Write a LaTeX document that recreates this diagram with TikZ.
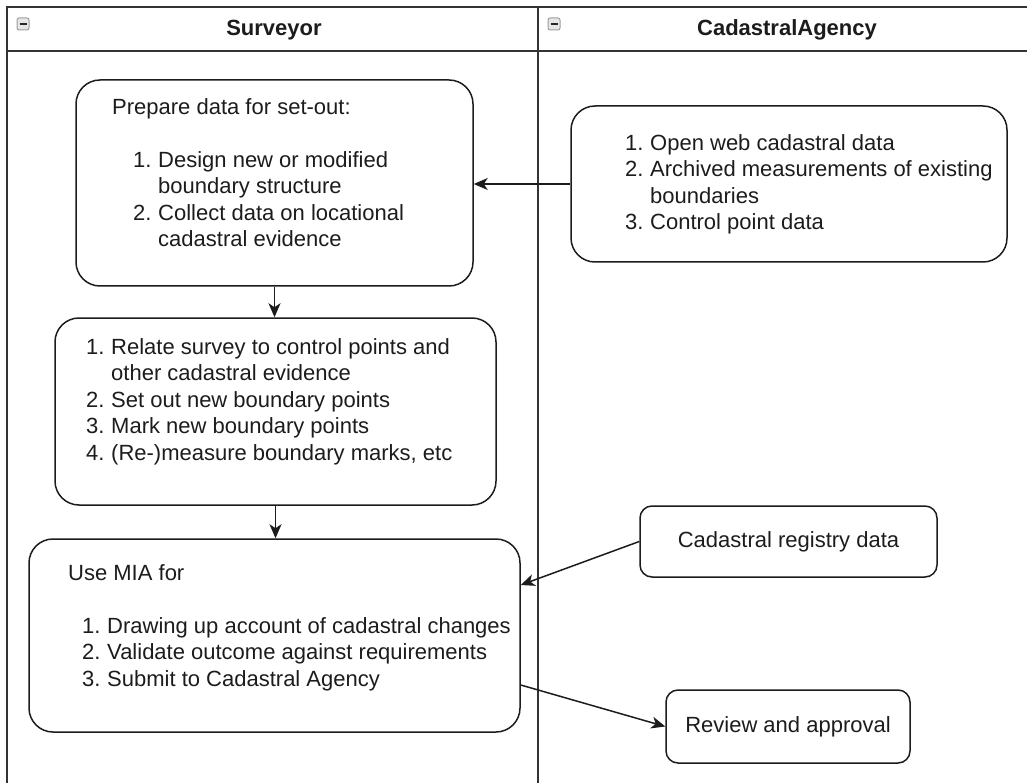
\documentclass[tikz,border=0pt]{standalone}
\usepackage{fontspec}
\setmainfont{Liberation Sans}
\usetikzlibrary{positioning,arrows.meta}
\definecolor{lane}{HTML}{333333}
\definecolor{ink}{HTML}{1C1C1C}
\newcommand{\num}[1]{\makebox[25pt][l]{#1}}
\newcommand{\cont}{\hspace*{25pt}}

\tikzset{
  task/.style={draw=ink, line width=1.5pt, rounded corners=24pt, inner sep=0pt},
  smalltask/.style={task, rounded corners=12pt, text=ink, font=\fontsize{22}{26.5}\selectfont},
  txt/.style={anchor=north west, align=left, inner sep=0pt, text=ink, font=\fontsize{22}{26.5}\selectfont},
  flow/.style={-{Stealth[length=14pt,width=12pt,inset=4pt]}, draw=ink, line width=1.5pt},
  lanehead/.style={font=\fontsize{22}{26}\selectfont\bfseries, text=ink},
  fold/.style={draw=gray!75, fill=gray!20, rounded corners=2pt, line width=1pt, minimum size=12pt, inner sep=0pt}
}

\begin{document}
\begin{tikzpicture}[x=1pt, y=-1pt]
\useasboundingbox (0,0) rectangle (1027,783);

% Lanes
\draw[lane, line width=2pt] (7,783) -- (7,7) -- (1027,7);
\draw[lane, line width=2pt] (7,51) -- (1027,51);
\draw[lane, line width=2pt] (538,7) -- (538,783);
\node[lanehead] (surveyor) at (274,30) {Surveyor};
\node[lanehead] (agency) at (787,30) {CadastralAgency};
\node[fold] (fold-s) at (23,24) {};
\node[fold] (fold-a) at (554,24) {};
\foreach \f in {fold-s, fold-a} {
    \draw[gray!30!black, line width=1.5pt] ([xshift=3pt]\f.west) -- ([xshift=-3pt]\f.east);
}

% Surveyor boxes
\node[task, minimum width=397pt, minimum height=206pt] (prep) at (274.5,183) {};
\node[txt] (prep-text) at (112,98) {Prepare data for set-out:\\[26.5pt]
  \hspace*{21pt}\num{1.}Design new or modified\\
  \hspace*{21pt}\cont boundary structure\\
  \hspace*{21pt}\num{2.}Collect data on locational\\
  \hspace*{21pt}\cont cadastral evidence};

\node[task, minimum width=441pt, minimum height=187pt] (setout) at (275.5,411.5) {};
\node[txt] (setout-text) at (86,338) {\num{1.}Relate survey to control points and\\
  \cont other cadastral evidence\\
  \num{2.}Set out new boundary points\\
  \num{3.}Mark new boundary points\\
  \num{4.}(Re-)measure boundary marks, etc};

\node[task, minimum width=491pt, minimum height=193pt] (mia) at (274.5,635.5) {};
\node[txt] (mia-text) at (68,564) {Use MIA for\\[26.5pt]
  \hspace*{14pt}\num{1.}Drawing up account of cadastral changes\\
  \hspace*{14pt}\num{2.}Validate outcome against requirements\\
  \hspace*{14pt}\num{3.}Submit to Cadastral Agency};

% Agency boxes
\node[task, minimum width=436pt, minimum height=156pt] (sources) at (789,184) {};
\node[txt] (sources-text) at (625,134) {\num{1.}Open web cadastral data\\
  \num{2.}Archived measurements of existing\\
  \cont boundaries\\
  \num{3.}Control point data};

\node[smalltask, minimum width=297pt, minimum height=71pt] (registry) at (788.5,541.5) {Cadastral registry data};
\node[smalltask, minimum width=244pt, minimum height=73pt] (review) at (788,726.5) {Review and approval};

% Flows
\coordinate (mia-in) at ([yshift=50.5pt]mia.east);
\coordinate (mia-out) at ([yshift=-49.5pt]mia.east);
\draw[flow] (sources.west) -- (sources.west -| prep.east);
\draw[flow] (prep.south) -- (prep.south |- setout.north);
\draw[flow] (setout.south) -- (setout.south |- mia.north);
\draw[flow] (registry.west) -- (mia-in);
\draw[flow] (mia-out) -- (review.west);

\end{tikzpicture}
\end{document}
